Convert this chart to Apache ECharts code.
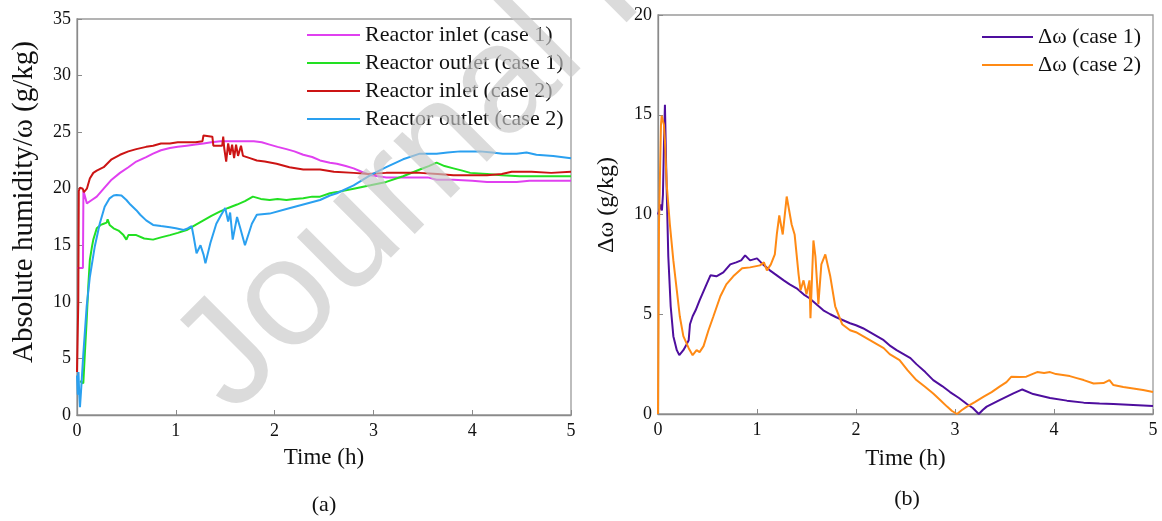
<!DOCTYPE html>
<html>
<head>
<meta charset="utf-8">
<script src="https://cdn.jsdelivr.net/npm/echarts@6/dist/echarts.min.js"></script>
<style>
html,body{margin:0;padding:0;background:#fff;}
#chart{width:1162px;height:521px;}
</style>
</head>
<body>
<div id="chart"></div>
<script>
// ---------- Data (time in h, humidity in g/kg) ----------
var inletCase1 = [[0,13.0],[0.06,13.0],[0.065,19.8],[0.075,19.5],[0.1,18.7],[0.115,18.6],[0.15,19.0],[0.2,19.3],[0.27,20.0],[0.35,20.8],[0.435,21.4],[0.52,21.9],[0.6,22.4],[0.7,22.8],[0.77,23.1],[0.85,23.4],[0.94,23.6],[1.02,23.7],[1.11,23.8],[1.2,23.9],[1.28,24.0],[1.36,24.1],[1.45,24.2],[1.55,24.2],[1.62,24.2],[1.72,24.2],[1.79,24.2],[1.87,24.1],[1.95,23.9],[2.03,23.7],[2.12,23.5],[2.2,23.3],[2.29,23.0],[2.38,22.8],[2.46,22.5],[2.56,22.3],[2.63,22.2],[2.72,22.0],[2.8,21.8],[2.88,21.5],[2.97,21.2],[3.05,21.1],[3.13,21.0],[3.3,21.0],[3.47,21.0],[3.55,21.0],[3.64,20.8],[3.81,20.8],[4.0,20.7],[4.15,20.6],[4.3,20.6],[4.45,20.6],[4.58,20.7],[4.8,20.7],[5,20.7]];
var outletCase1 = [[0.03,3.0],[0.05,2.9],[0.064,2.8],[0.08,5.5],[0.098,8.4],[0.115,11.5],[0.13,13.7],[0.15,14.8],[0.165,15.5],[0.2,16.5],[0.24,16.8],[0.27,16.9],[0.3,17.0],[0.31,17.3],[0.33,16.8],[0.37,16.5],[0.42,16.3],[0.47,15.9],[0.5,15.5],[0.52,15.9],[0.6,15.9],[0.68,15.6],[0.77,15.5],[0.85,15.7],[0.94,15.9],[1.02,16.1],[1.11,16.35],[1.2,16.8],[1.28,17.2],[1.36,17.6],[1.45,18.0],[1.53,18.3],[1.62,18.6],[1.7,18.9],[1.78,19.3],[1.86,19.1],[1.95,19.0],[2.03,19.1],[2.12,19.0],[2.2,19.1],[2.29,19.15],[2.38,19.3],[2.46,19.3],[2.56,19.6],[2.63,19.7],[2.8,20.0],[2.97,20.3],[3.13,20.6],[3.3,21.1],[3.47,21.7],[3.56,22.0],[3.64,22.3],[3.72,22.0],[3.81,21.8],[3.9,21.6],[3.98,21.4],[4.15,21.3],[4.3,21.2],[4.48,21.1],[4.7,21.1],[5,21.1]];
var inletCase2 = [[0,3.8],[0.01,3.8],[0.013,10],[0.018,19.8],[0.03,20.1],[0.058,20.0],[0.07,19.7],[0.085,19.6],[0.1,20.0],[0.13,20.9],[0.165,21.4],[0.2,21.6],[0.27,21.9],[0.35,22.6],[0.435,23.0],[0.52,23.3],[0.6,23.5],[0.7,23.7],[0.77,23.8],[0.85,24.0],[0.94,24.0],[1.02,24.1],[1.11,24.1],[1.2,24.1],[1.27,24.2],[1.28,24.7],[1.37,24.6],[1.38,23.8],[1.47,23.8],[1.48,24.6],[1.49,23.6],[1.51,22.4],[1.53,24.0],[1.55,23.0],[1.57,23.9],[1.59,22.7],[1.61,23.9],[1.63,22.9],[1.66,23.8],[1.68,22.9],[1.75,22.7],[1.82,22.5],[1.9,22.4],[2.02,22.2],[2.15,21.9],[2.29,21.7],[2.46,21.7],[2.6,21.5],[2.8,21.4],[2.95,21.3],[3.13,21.4],[3.3,21.4],[3.47,21.4],[3.65,21.3],[3.81,21.2],[4.0,21.2],[4.15,21.2],[4.3,21.3],[4.4,21.5],[4.6,21.5],[4.8,21.4],[5,21.5]];
var outletCase2 = [[0,3.5],[0.008,1.8],[0.015,3.8],[0.022,2.0],[0.03,0.7],[0.04,2.0],[0.064,5.4],[0.098,9.6],[0.13,12.2],[0.18,14.9],[0.23,16.9],[0.28,18.4],[0.33,19.15],[0.37,19.4],[0.4,19.45],[0.45,19.4],[0.5,19.0],[0.54,18.6],[0.6,18.1],[0.64,17.7],[0.7,17.2],[0.77,16.8],[0.85,16.7],[0.94,16.6],[1.0,16.5],[1.08,16.35],[1.12,16.5],[1.16,16.7],[1.18,15.8],[1.21,14.3],[1.25,15.0],[1.28,14.2],[1.3,13.4],[1.35,15.2],[1.41,16.9],[1.46,17.7],[1.5,18.3],[1.53,17.1],[1.55,17.9],[1.576,15.5],[1.62,17.5],[1.65,16.6],[1.7,15.0],[1.77,16.9],[1.82,17.7],[1.95,17.8],[2.12,18.2],[2.29,18.6],[2.46,19.0],[2.56,19.4],[2.63,19.6],[2.8,20.3],[2.97,21.2],[3.13,21.9],[3.3,22.6],[3.47,23.1],[3.64,23.1],[3.75,23.2],[3.88,23.3],[4.08,23.3],[4.2,23.2],[4.31,23.1],[4.45,23.1],[4.55,23.2],[4.65,23.0],[4.82,22.9],[5,22.7]];
var deltaCase1 = [[0,10.0],[0.02,10.0],[0.03,10.5],[0.04,10.2],[0.05,11.0],[0.06,13.5],[0.07,15.5],[0.08,13.0],[0.088,11.2],[0.104,7.9],[0.128,5.4],[0.155,3.9],[0.19,3.2],[0.215,2.95],[0.256,3.2],[0.29,3.5],[0.31,3.7],[0.323,4.5],[0.35,4.9],[0.38,5.2],[0.42,5.7],[0.49,6.5],[0.53,6.95],[0.59,6.9],[0.66,7.1],[0.73,7.5],[0.79,7.6],[0.84,7.7],[0.88,7.95],[0.93,7.7],[1.0,7.8],[1.06,7.5],[1.13,7.2],[1.2,6.95],[1.27,6.7],[1.33,6.5],[1.4,6.3],[1.47,6.0],[1.53,5.8],[1.6,5.5],[1.67,5.2],[1.74,5.0],[1.8,4.85],[1.87,4.7],[1.94,4.55],[2.0,4.45],[2.07,4.3],[2.14,4.1],[2.21,3.9],[2.28,3.7],[2.35,3.4],[2.41,3.2],[2.48,3.0],[2.55,2.8],[2.61,2.5],[2.7,2.1],[2.78,1.7],[2.87,1.4],[2.95,1.1],[3.04,0.8],[3.12,0.5],[3.18,0.3],[3.24,0.0],[3.28,0.2],[3.32,0.37],[3.45,0.7],[3.59,1.03],[3.68,1.23],[3.79,1.0],[3.96,0.8],[4.13,0.67],[4.3,0.57],[4.46,0.53],[4.6,0.5],[4.62,0.4],[5,0.4]];
var deltaCase2 = [[0,0],[0.005,4.5],[0.01,9.5],[0.02,12],[0.03,14.5],[0.037,14.95],[0.05,15.0],[0.06,14.5],[0.07,13.7],[0.088,11.5],[0.12,9.5],[0.155,7.7],[0.19,6.2],[0.22,4.9],[0.256,3.9],[0.31,3.3],[0.35,2.95],[0.39,3.2],[0.42,3.1],[0.46,3.4],[0.51,4.2],[0.56,4.9],[0.63,5.9],[0.69,6.5],[0.76,6.9],[0.85,7.3],[0.93,7.35],[1.03,7.45],[1.07,7.6],[1.1,7.2],[1.14,7.5],[1.18,8.0],[1.2,9.0],[1.225,9.95],[1.26,9.0],[1.3,10.9],[1.35,9.5],[1.38,9.0],[1.42,7.0],[1.44,6.2],[1.47,6.7],[1.5,6.0],[1.53,6.7],[1.54,4.8],[1.57,8.7],[1.59,7.9],[1.62,5.5],[1.65,7.5],[1.69,8.0],[1.74,6.9],[1.79,5.4],[1.86,4.5],[1.94,4.2],[2.0,4.1],[2.07,3.9],[2.14,3.7],[2.21,3.5],[2.28,3.3],[2.34,3.0],[2.44,2.7],[2.52,2.2],[2.61,1.7],[2.7,1.35],[2.78,1.03],[2.85,0.7],[2.92,0.37],[2.97,0.15],[3.02,0],[3.07,0.2],[3.12,0.37],[3.2,0.6],[3.29,0.87],[3.37,1.1],[3.45,1.37],[3.52,1.6],[3.57,1.87],[3.65,1.85],[3.72,1.87],[3.78,2.0],[3.83,2.1],[3.9,2.05],[3.96,2.1],[4.02,2.0],[4.09,1.95],[4.16,1.9],[4.23,1.8],[4.3,1.7],[4.4,1.53],[4.5,1.55],[4.56,1.7],[4.6,1.45],[4.7,1.35],[4.8,1.28],[4.9,1.2],[5,1.1]];

var leftNames = ['Reactor inlet (case 1)','Reactor outlet (case 1)','Reactor inlet (case 2)','Reactor outlet (case 2)'];
var rightNames = ['\u0394\u03c9 (case 1)','\u0394\u03c9 (case 2)'];
var leftColors = ['#e040f0','#22e022','#cc1414','#2aa0f0'];
var rightColors = ['#4e0e9e','#ff8a14'];

var FONT = "'Liberation Serif','Times New Roman',serif";
var chart = echarts.init(document.getElementById('chart'), null, {renderer:'canvas'});

function xAx(gi, gap){
  return {gridIndex:gi, type:'value', min:0, max:5, interval:1,
    name:'Time (h)', nameLocation:'middle', nameGap:gap,
    nameTextStyle:{fontFamily:FONT, fontSize:23, color:'#111'},
    axisLine:{show:true, lineStyle:{color:'#8a8a8a', width:1.3}},
    axisTick:{show:true, inside:true, length:5, lineStyle:{color:'#8a8a8a'}},
    axisLabel:{fontFamily:FONT, fontSize:18, color:'#111', margin:7},
    splitLine:{show:false}};
}
function yAx(gi, max){
  return {gridIndex:gi, type:'value', min:0, max:max, interval:5,
    axisLine:{show:true, lineStyle:{color:'#8a8a8a', width:1.3}},
    axisTick:{show:true, inside:true, length:5, lineStyle:{color:'#8a8a8a'}},
    axisLabel:{fontFamily:FONT, fontSize:18, color:'#111', margin:6},
    splitLine:{show:false}};
}
function line(name, data, color, xi){
  return {name:name, type:'line', xAxisIndex:xi, yAxisIndex:xi, data:data,
    symbol:'none', showSymbol:false, animation:false,
    lineStyle:{color:color, width:2}, itemStyle:{color:color}};
}

var series = [
  line(leftNames[0], inletCase1, leftColors[0], 0),
  line(leftNames[1], outletCase1, leftColors[1], 0),
  line(leftNames[2], inletCase2, leftColors[2], 0),
  line(leftNames[3], outletCase2, leftColors[3], 0),
  line(rightNames[0], deltaCase1, rightColors[0], 1),
  line(rightNames[1], deltaCase2, rightColors[1], 1)
];

function legend(names, left, top, w){
  return {data:names, orient:'vertical', left:left, top:top, padding:0,
    icon:'rect', itemWidth:w, itemHeight:2, itemGap:6,
    textStyle:{fontFamily:FONT, fontSize:22, color:'#111', lineHeight:22}};
}

var option = {
  backgroundColor:'#ffffff',
  animation:false,
  grid:[
    {left:77, top:19, width:494, height:396, show:true, borderColor:'#9a9a9a', borderWidth:1.3, backgroundColor:'transparent'},
    {left:658, top:15, width:495, height:399, show:true, borderColor:'#9a9a9a', borderWidth:1.3, backgroundColor:'transparent'}
  ],
  xAxis:[xAx(0,31), xAx(1,33)],
  yAxis:[yAx(0,35), yAx(1,20)],
  legend:[legend(leftNames, 307, 24, 53), legend(rightNames, 982, 26, 51)],
  series:series,
  graphic:[
    {type:'text', x:24, y:202, rotation:Math.PI/2, style:{text:'Absolute humidity/\u03c9 (g/kg)', font:'29px '+FONT, fill:'#111', textAlign:'center', textVerticalAlign:'middle'}},
    {type:'text', x:607, y:205, rotation:Math.PI/2, style:{text:'\u0394\u03c9 (g/kg)', font:'24px '+FONT, fill:'#111', textAlign:'center', textVerticalAlign:'middle'}},
    {type:'text', x:324, y:505, style:{text:'(a)', font:'22px '+FONT, fill:'#111', textAlign:'center', textVerticalAlign:'middle'}},
    {type:'text', x:907, y:499, style:{text:'(b)', font:'22px '+FONT, fill:'#111', textAlign:'center', textVerticalAlign:'middle'}},
    {type:'text', x:203, y:386, rotation:Math.PI/4, z:100, silent:true, style:{text:'Journal Pre-proof', font:"153px 'Liberation Sans',Arial,sans-serif", fill:'rgba(200,200,200,0.65)', textAlign:'left', textVerticalAlign:'middle'}}
  ]
};
chart.setOption(option);
</script>
</body>
</html>
